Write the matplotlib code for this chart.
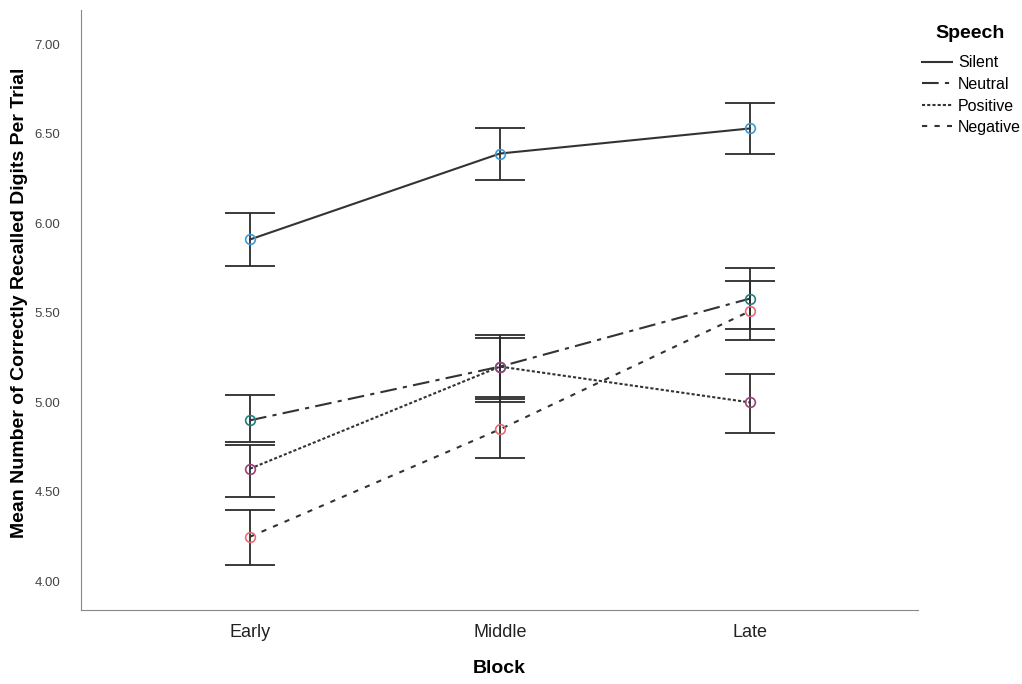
import numpy as np
import matplotlib.pyplot as plt
from matplotlib.lines import Line2D

plt.rcParams['font.family'] = ['Liberation Sans', 'DejaVu Sans']

blocks = ['Early', 'Middle', 'Late']
speech = ['Silent', 'Neutral', 'Positive', 'Negative']

# means and error bar limits
means = {
    'Silent':   [5.91, 6.39, 6.53],
    'Neutral':  [4.90, 5.20, 5.58],
    'Positive': [4.63, 5.20, 5.00],
    'Negative': [4.25, 4.85, 5.51],
}
upper = {
    'Silent':   [6.06, 6.53, 6.67],
    'Neutral':  [5.04, 5.375, 5.75],
    'Positive': [4.76, 5.36, 5.16],
    'Negative': [4.40, 5.02, 5.68],
}
lower = {
    'Silent':   [5.76, 6.24, 6.39],
    'Neutral':  [4.78, 5.03, 5.41],
    'Positive': [4.47, 5.005, 4.83],
    'Negative': [4.09, 4.69, 5.35],
}

marker_colors = {'Silent': '#3c9ad6', 'Neutral': '#1f7f82',
                 'Positive': '#9c3f7e', 'Negative': '#ea6a73'}
line_styles = {'Silent': '-', 'Neutral': (0, (8, 3, 2, 3)),
               'Positive': (0, (1.5, 1)), 'Negative': (0, (2.5, 3.5))}

fig = plt.figure(figsize=(10.22, 6.84), dpi=100)
ax = fig.add_axes([0.0793, 0.108, 0.819, 0.877])

x = np.arange(len(blocks))
for s in speech:
    m = np.array(means[s])
    lo = m - np.array(lower[s])
    hi = np.array(upper[s]) - m
    ax.errorbar(x, m, yerr=[lo, hi], fmt='none', ecolor='#2b2b2b',
                elinewidth=1.3, capsize=18, capthick=1.3, zorder=2)
    ax.plot(x, m, color='#333333', linestyle=line_styles[s], lw=1.5, zorder=3)
    ax.plot(x, m, 'o', mfc='none', mec=marker_colors[s], ms=7, mew=1.2, zorder=4)

ax.set_xlim(-0.676, 2.672)
ax.set_ylim(3.84, 7.19)
ax.set_xticks(x)
ax.set_xticklabels(blocks, fontsize=13, color='#222222')
ax.set_yticks([4.0, 4.5, 5.0, 5.5, 6.0, 6.5, 7.0])
ax.set_yticklabels([f'{v:.2f}' for v in ax.get_yticks()], fontsize=9.5, color='#444444')
ax.tick_params(axis='y', length=0, pad=15)
ax.tick_params(axis='x', length=0, pad=10)
for side in ['top', 'right']:
    ax.spines[side].set_visible(False)
for side in ['left', 'bottom']:
    ax.spines[side].set_color('#888888')

ax.set_xlabel('Block', fontsize=14, fontweight='bold', labelpad=14)
ax.set_ylabel('Mean Number of Correctly Recalled Digits Per Trial', fontsize=14,
              fontweight='bold')
ax.yaxis.set_label_coords(-0.063, 0.513)

handles = [Line2D([], [], color='#333333', linestyle=line_styles[s], lw=1.5) for s in speech]
fig.legend(handles, speech, loc='upper left', bbox_to_anchor=(0.902, 0.919),
           frameon=False, fontsize=11.5, handlelength=1.9,
           handletextpad=0.35, labelspacing=0.41, borderaxespad=0, borderpad=0)
fig.text(0.949, 0.951, 'Speech', fontsize=14, fontweight='bold',
         ha='center', va='center')

fig.savefig('out.png', dpi=100)
